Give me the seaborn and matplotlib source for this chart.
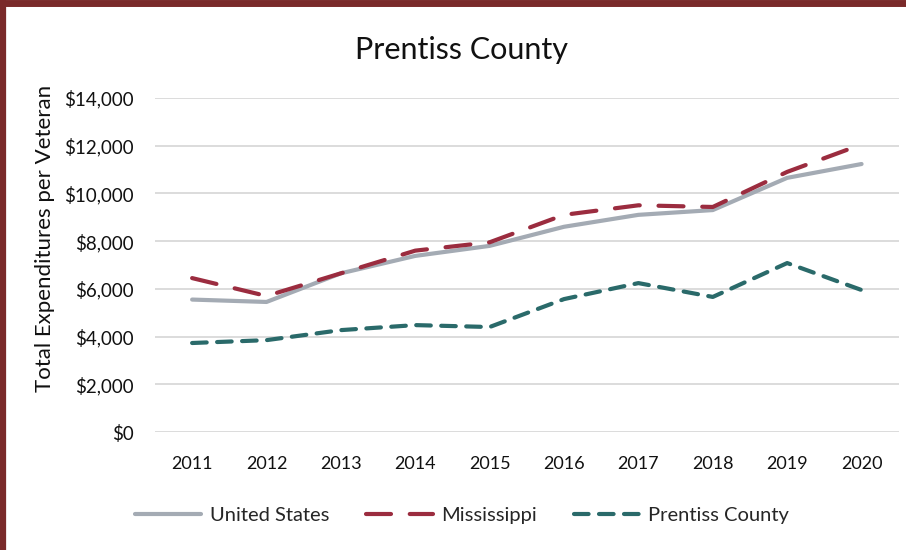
import pandas as pd
import matplotlib.pyplot as plt
import seaborn as sns
from matplotlib.ticker import FuncFormatter
from matplotlib.lines import Line2D

# Data
years = [2011, 2012, 2013, 2014, 2015, 2016, 2017, 2018, 2019, 2020]
united_states = [5550, 5450, 6650, 7380, 7800, 8600, 9100, 9300, 10650, 11230]
mississippi = [6450, 5700, 6650, 7600, 7950, 9100, 9500, 9430, 10900, 12050]
prentiss = [3730, 3850, 4270, 4480, 4400, 5570, 6240, 5660, 7080, 5950]

series_names = ["United States", "Mississippi", "Prentiss County"]
colors = {"United States": "#A4ABB4", "Mississippi": "#9B2C3F", "Prentiss County": "#2A6A6A"}
dashes = {"United States": "", "Mississippi": (6, 4.5), "Prentiss County": (3.5, 2.5)}

df = pd.DataFrame({
    "Year": years * 3,
    "Value": united_states + mississippi + prentiss,
    "Series": [s for s in series_names for _ in years],
})

sns.set_theme(style="white")
plt.rcParams["font.family"] = ["Lato", "DejaVu Sans"]

fig = plt.figure(figsize=(9.06, 5.5), dpi=100)
ax = fig.add_axes([0.171, 0.2145, 0.821, 0.6075])

sns.lineplot(data=df, x="Year", y="Value", hue="Series", style="Series",
             palette=colors, dashes=dashes, linewidth=3, ax=ax,
             hue_order=series_names, style_order=series_names)
for line in ax.get_lines():
    line.set_dash_capstyle("round")
    line.set_solid_capstyle("round")

ax.set_xlim(2010.5, 2020.5)
ax.set_ylim(0, 14000)
ax.set_yticks(range(0, 14001, 2000))
ax.set_xticks(years)
ax.yaxis.set_major_formatter(FuncFormatter(lambda v, p: f"${v:,.0f}"))
ax.grid(axis="y", color="#D9D9D9", linewidth=1.3)
ax.set_axisbelow(True)
for s in ax.spines.values():
    s.set_visible(False)
ax.tick_params(axis="both", length=0, colors="#111111")
ax.tick_params(axis="x", pad=17, labelsize=13)
ax.tick_params(axis="y", pad=15, labelsize=13.5)

ax.set_xlabel("")
ax.set_ylabel("")
fig.text(0.05, 1 - 238 / 550, "Total Expenditures per Veteran", rotation=90,
         ha="center", va="center", fontsize=16, color="#111111")
fig.text(0.509, 1 - 50 / 550, "Prentiss County", ha="center", va="center",
         fontsize=22, color="#111111")

handles, labels = ax.get_legend_handles_labels()
ax.legend(handles, labels, loc="center", bbox_to_anchor=(0.51, 0.062),
          bbox_transform=fig.transFigure, ncol=3, frameon=False,
          fontsize=14.5, handlelength=3.3, columnspacing=1.85, handletextpad=0.4)

# maroon frame on the left and top edges
fig.lines.append(Line2D([0.0035, 0.0035], [0, 1], transform=fig.transFigure,
                        color="#7A2A2A", linewidth=4.5))
fig.lines.append(Line2D([0, 1], [0.994, 0.994], transform=fig.transFigure,
                        color="#7A2A2A", linewidth=5))

fig.savefig("out.png", dpi=100)
